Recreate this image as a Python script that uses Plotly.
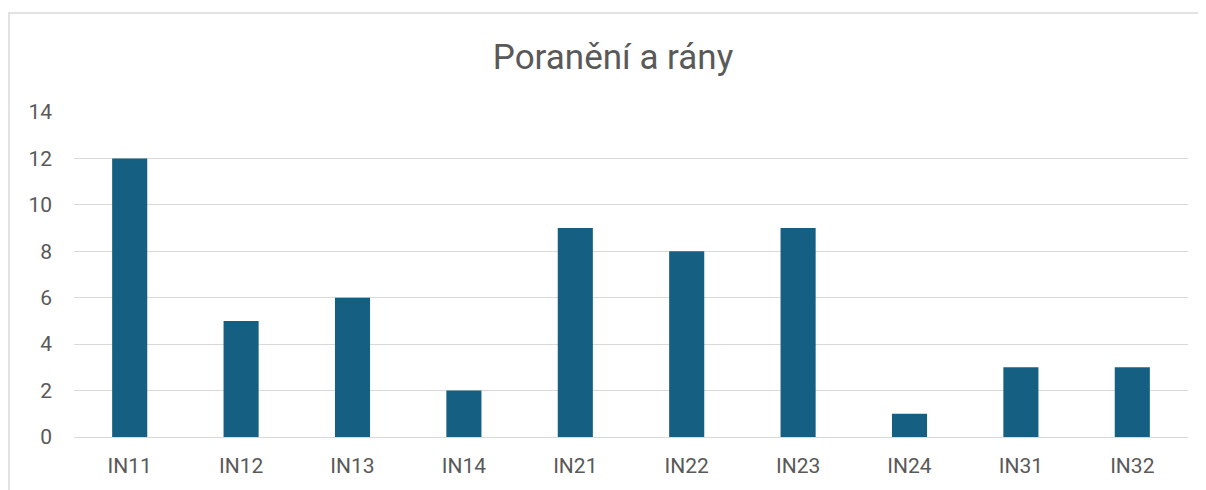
import plotly.graph_objects as go

categories = ["IN11", "IN12", "IN13", "IN14", "IN21", "IN22", "IN23", "IN24", "IN31", "IN32"]
values = [12, 5, 6, 2, 9, 8, 9, 1, 3, 3]
y_ticks = [0, 2, 4, 6, 8, 10, 12, 14]

fig = go.Figure(go.Bar(x=categories, y=values, marker_color="#156082", marker_line_width=0))

# page body has an 8px margin, so the plot area is placed 8px up/left
fig.update_layout(
    width=1206, height=490,
    margin=dict(l=66, r=26, t=104, b=61),
    paper_bgcolor="white", plot_bgcolor="white",
    font=dict(family="Roboto", color="#595959", size=21),
    title=dict(text="Poranění a rány", x=(613 - 8) / 1206, xanchor="center",
               y=1 - 49 / 490, yanchor="middle", yref="container",
               font=dict(size=35, color="#595959")),
    bargap=0.685,
    showlegend=False,
    shapes=[dict(type="rect", xref="paper", yref="paper",
                 x0=-0.0583, x1=1.0135, y0=-0.25, y1=1.3046,
                 line=dict(color="#d9d9d9", width=1.5), layer="below")],
)

fig.update_xaxes(showgrid=False, zeroline=False, showline=False,
                 ticks="", ticklabelstandoff=14)
fig.update_yaxes(range=[0, 14], tickvals=y_ticks, showgrid=True,
                 gridcolor="#d9d9d9", gridwidth=1.3, zeroline=True,
                 zerolinecolor="#d9d9d9", zerolinewidth=1.3, showline=False,
                 ticks="", ticklabelstandoff=21)

fig.write_html("out.html")
